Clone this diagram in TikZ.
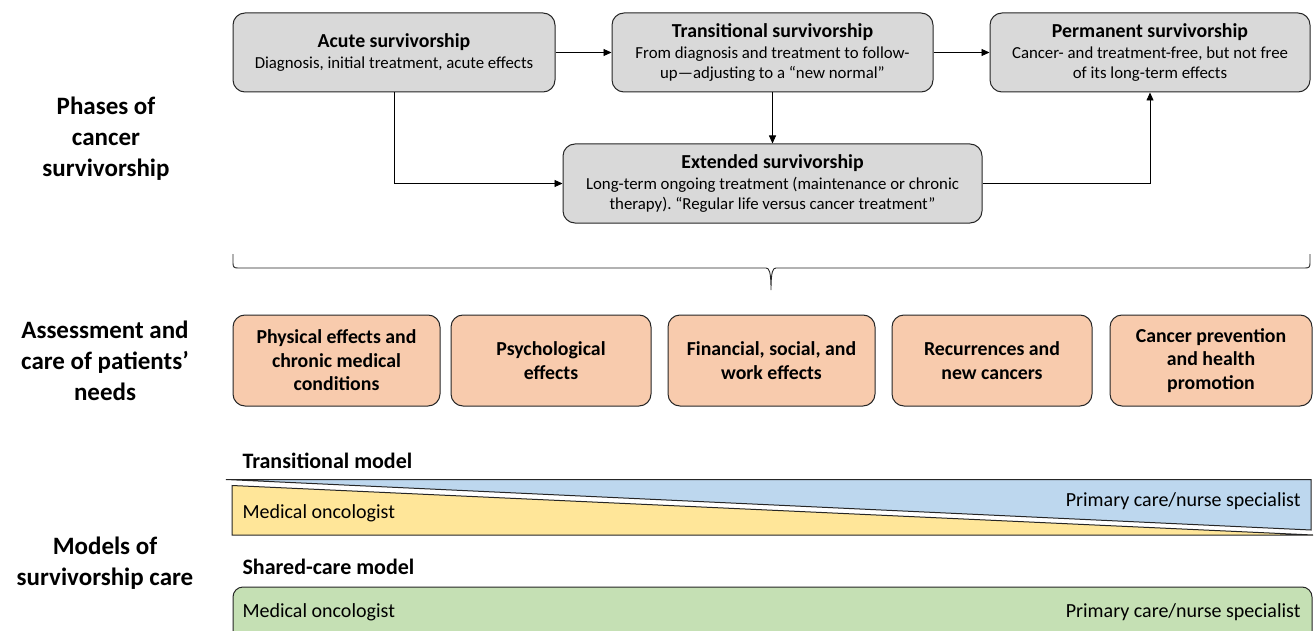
\documentclass[tikz,border=0pt]{standalone}
\usepackage{fontspec}
\setmainfont{Carlito}
\usetikzlibrary{arrows.meta}
\definecolor{phasegray}{HTML}{D9D9D9}
\definecolor{needorange}{HTML}{F8CBAD}
\definecolor{oncoyellow}{HTML}{FFE699}
\definecolor{pcblue}{HTML}{BDD7EE}
\definecolor{sharedgreen}{HTML}{C5E0B4}
\definecolor{edge}{HTML}{262626}
\tikzset{
  phase/.style={draw=edge, line width=1pt, fill=phasegray, rounded corners=12pt,
    minimum height=79pt, align=center, inner sep=1pt,
    font=\fontsize{16.8}{20.5}\selectfont},
  need/.style={draw=edge, line width=1pt, fill=needorange, rounded corners=12pt,
    minimum height=91pt, align=center, inner sep=1pt,
    font=\bfseries\fontsize{19.8}{23.5}\selectfont},
  sidelabel/.style={align=center, font=\bfseries\fontsize{25}{31}\selectfont},
  modeltitle/.style={anchor=west, font=\bfseries\fontsize{22}{24}\selectfont},
  bartext/.style={font=\fontsize{20}{22}\selectfont},
  flow/.style={line width=0.9pt, -{Triangle[length=8pt,width=7pt]}}
}
\newcommand{\phtitle}[1]{{\bfseries\fontsize{19.8}{21}\selectfont #1}}
\begin{document}
\frenchspacing
\begin{tikzpicture}[x=1pt,y=-1pt]
\useasboundingbox (0,0) rectangle (1314,631);

% side labels
\node[sidelabel] (lphase) at (106,139) {Phases of\\cancer\\survivorship};
\node[sidelabel] (lneeds) at (105,361) {Assessment and\\care of patients'\\needs};
\node[sidelabel] (lmodel) at (105,563) {Models of\\survivorship care};

% phases of survivorship
\node[phase, minimum width=322pt] (acute) at (394,52.5)
  {\phtitle{Acute survivorship}\\Diagnosis, initial treatment, acute effects};
\node[phase, minimum width=321pt] (trans) at (772.5,52.5)
  {\phtitle{Transitional survivorship}\\From diagnosis and treatment to follow-\\up—adjusting to a “new normal”};
\node[phase, minimum width=320pt] (perm) at (1150,52.5)
  {\phtitle{Permanent survivorship}\\Cancer- and treatment-free, but not free\\of its long-term effects};
\node[phase, minimum width=419pt] (ext) at (772.5,183.5)
  {\phtitle{Extended survivorship}\\Long-term ongoing treatment (maintenance or chronic\\therapy). “Regular life versus cancer treatment”};

\draw[flow] (acute.east) -- (trans.west);
\draw[flow] (trans.east) -- (perm.west);
\draw[flow] (trans.south) -- (ext.north);
\draw[flow] (acute.south) |- (ext.west);
\draw[flow] (ext.east) -| (perm.south);

% brace gathering the phases
\coordinate (bl) at (233,254);
\coordinate (br) at (1310,254);
\coordinate (btip) at (771,290);
\draw[line width=0.9pt, edge]
  (bl) -- (233,263) .. controls (233,267) and (234,268) .. (238,268)
  -- (766,268) .. controls (769,268) and (771,271) .. (btip)
  .. controls (771,271) and (773,268) .. (776,268)
  -- (1305,268) .. controls (1309,268) and (1310,267) .. (1310,263) -- (br);

% patients' needs
\node[need, minimum width=207pt] (n1) at (336.5,360.5) {Physical effects and\\chronic medical\\conditions};
\node[need, minimum width=200pt] (n2) at (551,360.5) {Psychological\\effects};
\node[need, minimum width=207pt] (n3) at (771.5,360.5) {Financial, social, and\\work effects};
\node[need, minimum width=200pt] (n4) at (992,360.5) {Recurrences and\\new cancers};
\node[need, minimum width=202pt] (n5) at (1211,360.5) {Cancer prevention\\and health\\promotion};

% transitional model
\node[modeltitle] (tmodel) at (239,461) {Transitional model};
\filldraw[draw=edge, line width=1pt, fill=pcblue]
  (226,479.5) -- (1311,479.5) -- (1311,530) -- cycle;
\filldraw[draw=edge, line width=1pt, fill=oncoyellow]
  (232,485.5) -- (1313,535) -- (232,535) -- cycle;
\node[bartext, anchor=west] (tonc) at (239,513) {Medical oncologist};
\node[bartext, anchor=east] (tpc) at (1304,501) {Primary care/nurse specialist};

% shared-care model
\node[modeltitle] (smodel) at (239,567) {Shared-care model};
\filldraw[draw=edge, line width=1pt, fill=sharedgreen, rounded corners=10pt]
  (233,645) -- (233,587) -- (1312,587) -- (1312,645);
\node[bartext, anchor=west] (sonc) at (239,612) {Medical oncologist};
\node[bartext, anchor=east] (spc) at (1304,612) {Primary care/nurse specialist};
\end{tikzpicture}
\end{document}
